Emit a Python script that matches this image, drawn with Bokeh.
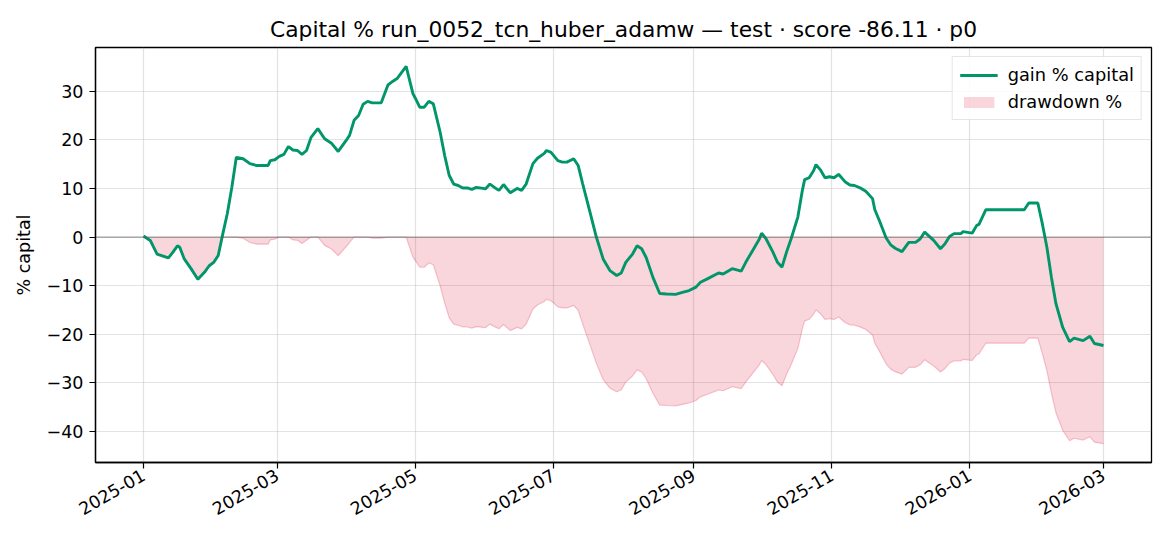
import numpy as np
import pandas as pd
from bokeh.plotting import figure
from bokeh.models import (Range1d, FixedTicker, DatetimeTickFormatter, Span,
                          Legend, LegendItem, ColumnDataSource)
from bokeh.embed import file_html
from bokeh.resources import INLINE

# ---------------- data ----------------
START = "2025-01-01"
day_offset = [0, 3, 6, 8, 11, 13, 15, 16, 18, 21, 24, 27, 29, 31, 33, 35, 37, 39, 41, 44,
              47, 50, 55, 56, 58, 60, 62, 64, 66, 68, 70, 72, 74, 77, 80, 83, 86, 90, 91, 93,
              95, 97, 99, 101, 105, 108, 110, 112, 116, 119, 120, 122, 124, 126, 128, 131, 133, 135, 137, 139,
              141, 143, 145, 147, 150, 151, 153, 155, 157, 159, 162, 165, 167, 169, 172, 174, 177, 178, 180, 183,
              185, 187, 190, 192, 194, 197, 200, 203, 206, 209, 211, 213, 216, 218, 220, 222, 225, 228, 231, 235,
              238, 241, 244, 246, 249, 254, 256, 260, 264, 266, 269, 272, 273, 275, 278, 280, 282, 284, 286, 289,
              291, 292, 294, 296, 297, 299, 301, 303, 305, 307, 310, 312, 314, 317, 319, 322, 323, 325, 328, 330,
              332, 335, 338, 341, 343, 345, 349, 352, 354, 356, 358, 361, 362, 366, 368, 369, 372, 377, 389, 391,
              395, 397, 399, 401, 403, 406, 409, 411, 415, 418, 420, 424]
gain_pct = [0.2, -0.7, -3.5, -3.8, -4.3, -3.1, -1.8, -2.1, -4.5, -6.5, -8.7, -7.2, -5.9, -5.2, -3.8, 0.6, 4.8, 10.2, 16.4, 16.1,
            15.1, 14.7, 14.7, 15.7, 15.9, 16.6, 17.0, 18.6, 17.9, 17.8, 17.0, 17.8, 20.5, 22.3, 20.2, 19.3, 17.6, 20.2, 20.9, 24.0,
            25.0, 27.3, 27.9, 27.6, 27.6, 31.3, 32.0, 32.6, 35.1, 29.5, 28.6, 26.7, 26.7, 27.9, 27.4, 21.6, 16.8, 12.7, 10.9, 10.6,
            10.1, 10.1, 9.8, 10.2, 10.0, 9.9, 10.9, 10.2, 9.6, 10.8, 9.1, 10.0, 9.6, 10.9, 15.1, 16.2, 17.2, 17.8, 17.4, 15.7,
            15.4, 15.4, 16.1, 14.7, 10.9, 5.5, 0.0, -4.5, -6.9, -7.9, -7.4, -5.2, -3.5, -1.8, -2.4, -4.2, -8.3, -11.6, -11.7, -11.8,
            -11.4, -11.0, -10.3, -9.3, -8.6, -7.4, -7.6, -6.5, -7.0, -5.2, -2.8, -0.4, 0.8, -0.4, -3.1, -5.2, -6.2, -3.1, -0.4, 4.1,
            9.6, 11.8, 12.2, 13.7, 14.9, 13.8, 12.2, 12.4, 12.2, 12.9, 11.3, 10.7, 10.6, 10.0, 9.4, 7.9, 5.6, 3.4, -0.2, -1.6,
            -2.3, -3.0, -1.1, -1.1, -0.4, 1.0, -0.7, -2.4, -1.4, 0.1, 0.7, 0.7, 1.1, 0.8, 2.4, 2.6, 5.6, 5.6, 5.6, 7.0,
            7.0, 2.7, -2.1, -8.3, -13.7, -18.6, -21.5, -20.8, -21.3, -20.4, -21.9, -22.3]
x_tick_labels = ["2025-01", "2025-03", "2025-05", "2025-07", "2025-09", "2025-11", "2026-01", "2026-03"]
y_ticks = [-40, -30, -20, -10, 0, 10, 20, 30]

TITLE = "Capital % run_0052_tcn_huber_adamw \u2014 test \u00b7 score -86.11 \u00b7 p0"

# ---------------- derived ----------------
dates = pd.Timestamp(START) + pd.to_timedelta(day_offset, unit="D")
gain = np.array(gain_pct, dtype=float)
equity = 1.0 + gain / 100.0
peak = np.maximum.accumulate(np.concatenate([[1.0], equity]))[1:]
drawdown = (equity / peak - 1.0) * 100.0

src = ColumnDataSource(dict(x=dates, gain=gain, dd=drawdown, zero=np.zeros_like(gain)))

t0 = dates[0]
t1 = dates[-1]
span = t1 - t0
x_start = t0 - span * 0.05
x_end = t1 + span * 0.05
ymin = min(gain.min(), drawdown.min())
ymax = max(gain.max(), drawdown.max())
yr = ymax - ymin

FONT = "DejaVu Sans"
GREEN = "#00966a"

p = figure(frame_width=1056, frame_height=415, min_border_left=95, min_border_right=3,
           min_border_top=47, min_border_bottom=68,
           x_axis_type="datetime", output_backend="svg", toolbar_location=None,
           x_range=Range1d(x_start, x_end), y_range=Range1d(ymin - 0.05 * yr, ymax + 0.05 * yr))

p.title.text = TITLE
p.title.align = "center"
p.title.text_font = FONT
p.title.text_font_size = "21.8px"
p.title.text_font_style = "normal"
p.title.text_color = "black"
p.title.offset = 0
p.title.standoff = 11

# drawdown fill
dd_area = p.varea(x="x", y1="dd", y2="zero", source=src, fill_color="crimson", fill_alpha=0.18)
p.line(x="x", y="dd", source=src, line_color="crimson", line_alpha=0.22, line_width=1.2)

# zero line
p.add_layout(Span(location=0, dimension="width", line_color="#555555", line_alpha=0.55, line_width=1.3))

gain_line = p.line(x="x", y="gain", source=src, line_color=GREEN, line_width=2.9)

# axes
tick_ms = [pd.Timestamp(s + "-01").value // 10**6 for s in x_tick_labels]
p.xaxis.ticker = FixedTicker(ticks=tick_ms)
p.xaxis.formatter = DatetimeTickFormatter(months="%Y-%m", days="%Y-%m", years="%Y-%m")
p.xaxis.major_label_orientation = np.pi / 6
p.yaxis.ticker = FixedTicker(ticks=y_ticks)
p.yaxis.major_label_overrides = {v: str(v).replace("-", "\u2212") for v in y_ticks}
p.yaxis.axis_label = "% capital"

for ax in (p.xaxis, p.yaxis):
    ax.major_label_text_font = FONT
    ax.major_label_text_font_size = "17.5px"
    ax.major_label_text_color = "black"
    ax.axis_label_text_font = FONT
    ax.axis_label_text_font_size = "17.5px"
    ax.axis_label_text_font_style = "normal"
    ax.axis_label_text_color = "black"
    ax.minor_tick_line_color = None
    ax.major_tick_out = 6
    ax.major_tick_in = 0
    ax.major_tick_line_color = "black"
    ax.major_tick_line_width = 1.2
    ax.axis_line_color = "black"
    ax.axis_line_width = 1.3
p.yaxis.axis_label_standoff = 10
p.yaxis.major_label_standoff = 6
p.xaxis.major_label_standoff = 5

p.outline_line_color = "black"
p.outline_line_width = 1.3
p.outline_line_alpha = 1

p.xgrid.grid_line_color = "#b0b0b0"
p.ygrid.grid_line_color = "#b0b0b0"
p.xgrid.grid_line_alpha = 0.35
p.ygrid.grid_line_alpha = 0.35
p.xgrid.grid_line_width = 1.2
p.ygrid.grid_line_width = 1.2

legend = Legend(items=[LegendItem(label="gain % capital", renderers=[gain_line]),
                       LegendItem(label="drawdown %", renderers=[dd_area])],
                location="top_right")
legend.label_text_font = FONT
legend.label_text_font_size = "17.8px"
legend.label_text_color = "black"
legend.glyph_width = 38
legend.glyph_height = 14
legend.label_height = 20
legend.label_standoff = 10
legend.spacing = 6
legend.padding = 7
legend.margin = 9
legend.border_line_color = "#cccccc"
legend.border_line_width = 1.2
legend.background_fill_alpha = 0.85
p.add_layout(legend)

p.background_fill_color = "white"
p.border_fill_color = "white"

open("out.html", "w").write(file_html(p, INLINE))
